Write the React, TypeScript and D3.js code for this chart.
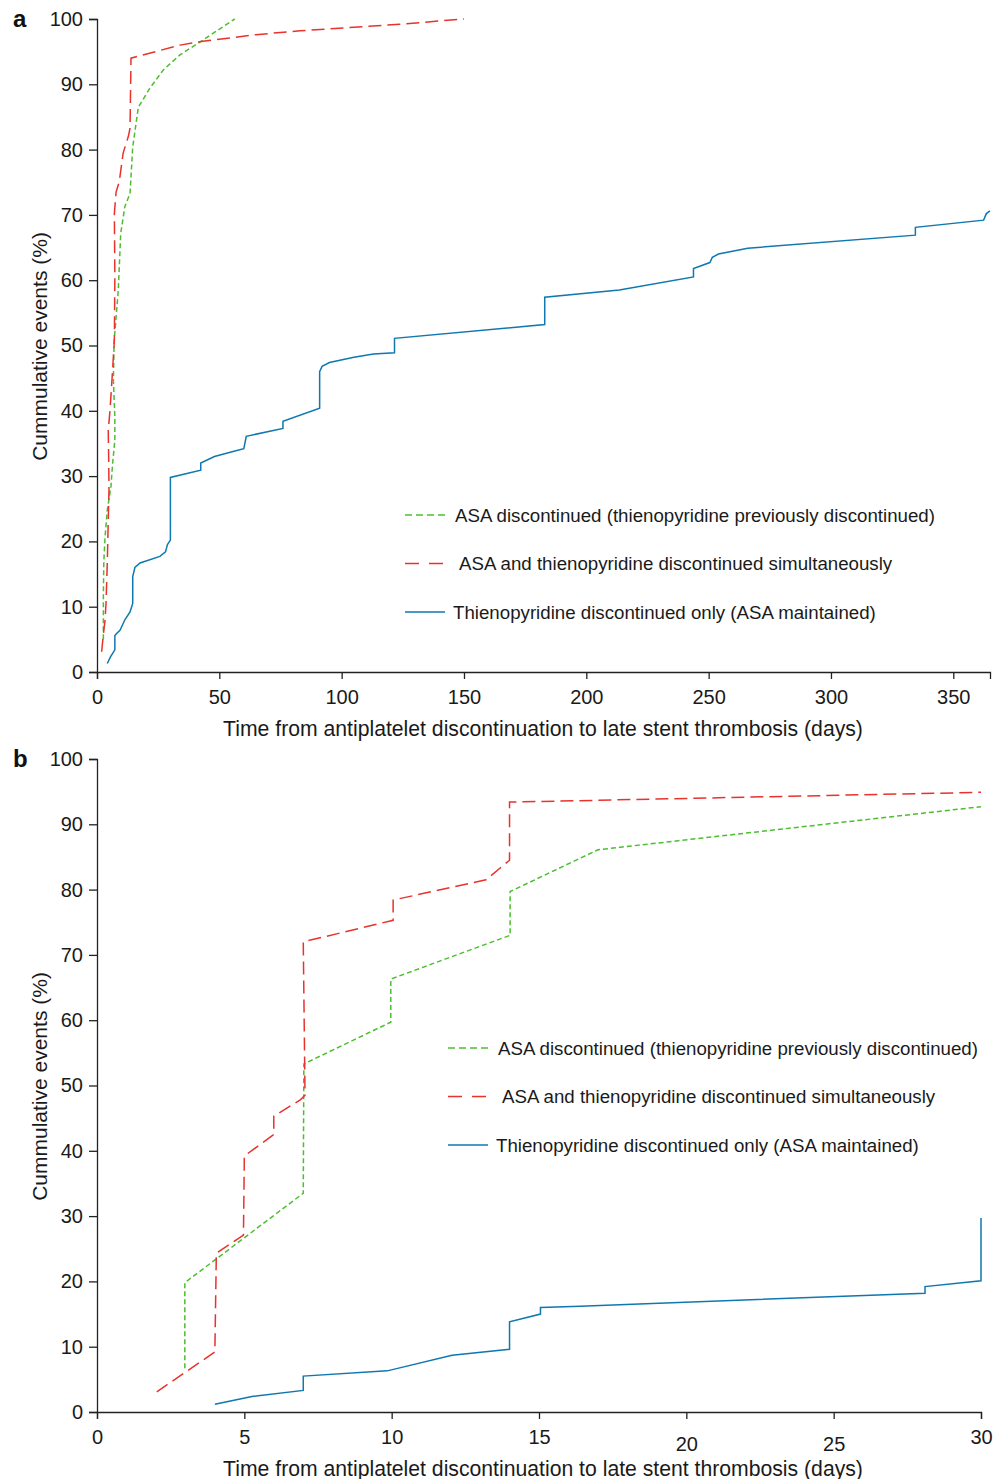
import * as d3 from "d3";
import React, { useRef, useEffect } from "react";

// [day, cumulative %]
const asaOnlyA = [[2.6, 5], [2.6, 12], [2.8, 17], [3.3, 20.7], [4.2, 24.8], [5.7, 28.4], [6.4, 32], [7.3, 35.5], [7.3, 39], [6.7, 44.7], [7.0, 50.8], [7.3, 52], [8.7, 58.5], [9.7, 67.2], [11.4, 71.3], [13.5, 73.3], [14.6, 80.4], [16.9, 86.5], [21.6, 89.4], [27.1, 92.2], [33.9, 94.5], [43.4, 96.8], [56.3, 100]];
const bothA = [[1.9, 3.1], [2.5, 5.4], [3.3, 8], [3.7, 10.6], [4.2, 16.7], [4.9, 27.9], [4.8, 32], [4.6, 37], [5.3, 40], [6.2, 45.2], [7.1, 50.8], [7.3, 60.5], [7.1, 70.2], [7.8, 73.5], [9.1, 75.1], [10.7, 79.5], [12.8, 82], [13.5, 83.3], [13.9, 94], [33.9, 96], [43.3, 96.6], [65, 97.6], [83, 98.2], [123.7, 99.2], [150, 100]];
const thienoA = [[4.2, 1.3], [5.5, 2.3], [7.3, 3.4], [7.3, 5.6], [8, 5.9], [9.4, 6.4], [11.4, 8], [13.5, 9.2], [14.6, 10.5], [14.6, 14.6], [15.5, 16], [17.6, 16.7], [25.7, 17.7], [28, 18.4], [28.8, 19.5], [30, 20.2], [30, 29.8], [42.4, 30.9], [42.4, 32], [48, 33], [56, 33.8], [60, 34.2], [60.6, 35.3], [61, 36.1], [76, 37.3], [76, 38.4], [91, 40.4], [91, 46], [92, 46.8], [95, 47.4], [105, 48.2], [113, 48.7], [121.6, 48.9], [121.6, 51.1], [183, 53.2], [183, 57.4], [213.5, 58.5], [243.8, 60.5], [243.8, 61.8], [250.5, 62.7], [251.5, 63.5], [254, 64], [266, 64.9], [334.5, 66.9], [334.5, 68.1], [362.4, 69.2], [363.5, 70.2], [365, 70.6]];

const asaOnlyB = [[2.98, 6.7], [2.98, 19.8], [7, 33.5], [7.02, 53.3], [9.97, 59.7], [9.97, 66.3], [14.02, 73], [14.02, 79.7], [17, 86.1], [30, 92.7]];
const bothB = [[2.03, 3.1], [4.0, 9.2], [4.05, 24.3], [4.97, 27.1], [5, 39.2], [6, 42.5], [6, 45.3], [6.9, 47.8], [7.06, 48.5], [7, 72.0], [10.05, 75.3], [10.05, 78.4], [13.2, 81.5], [14, 84.5], [14, 93.4], [30, 94.9]];
const thienoB = [[4, 1.2], [5.3, 2.4], [7, 3.3], [7, 5.5], [9.85, 6.3], [12.05, 8.7], [14, 9.6], [14, 13.8], [15.05, 15], [15.05, 16], [16.4, 16.2], [28.1, 18.2], [28.1, 19.2], [30, 20.1], [30, 29.7]];

const yTicks = [0, 10, 20, 30, 40, 50, 60, 70, 80, 90, 100];
const xTicksA = [0, 50, 100, 150, 200, 250, 300, 350];
const xTicksB = [0, 5, 10, 15, 20, 25, 30];

const legendLabels = [
  "ASA discontinued (thienopyridine previously discontinued)",
  "ASA and thienopyridine discontinued simultaneously",
  "Thienopyridine discontinued only (ASA maintained)",
];

const xTitle = "Time from antiplatelet discontinuation to late stent thrombosis (days)";
const yTitle = "Cummulative events (%)";

const FONT = "'Liberation Sans', Arial, Helvetica, sans-serif";
const styles = [
  { color: "#4cbf2e", dash: "5,3", legendDash: "7,4" },
  { color: "#e8322c", dash: "13,6", legendDash: "14,10" },
  { color: "#0f78b0", dash: null, legendDash: null },
];
const legendTextOffset = [50, 54, 48];

function drawPanel(svg, opts) {
  const { left, top, width, height, xMax, xTicks, series, letter, legendX, legendY, lowered } = opts;
  const g = svg.append("g").attr("transform", "translate(" + left + "," + top + ")");
  const x = d3.scaleLinear().domain([0, xMax]).range([0, width]);
  const y = d3.scaleLinear().domain([0, 100]).range([height, 0]);

  const yAxis = g.append("g").call(d3.axisLeft(y).tickValues(yTicks).tickSize(8).tickPadding(6));
  const xAxis = g
    .append("g")
    .attr("transform", "translate(0," + height + ")")
    .call(d3.axisBottom(x).tickValues(xTicks).tickSize(7).tickPadding(11));
  [xAxis, yAxis].forEach((ax) => {
    ax.select(".domain").attr("stroke", "#222").attr("stroke-width", 1.3);
    ax.selectAll(".tick line").attr("stroke", "#222").attr("stroke-width", 1.3);
    ax.selectAll("text").attr("font-family", FONT).attr("font-size", 20).attr("fill", "#1a1a1a");
  });
  // a few tick labels sit lower in the original
  xAxis.selectAll(".tick text").attr("dy", (d) => (lowered.includes(d) ? "1.05em" : "0.71em"));

  const line = d3
    .line()
    .x((d) => x(d[0]))
    .y((d) => y(d[1]));

  series.forEach((s, i) => {
    g.append("path")
      .datum(s)
      .attr("d", line)
      .attr("fill", "none")
      .attr("stroke", styles[i].color)
      .attr("stroke-width", 1.5)
      .attr("stroke-dasharray", styles[i].dash);
  });

  // legend
  legendLabels.forEach((lab, i) => {
    const ly = legendY + i * 48.5;
    svg
      .append("line")
      .attr("x1", legendX)
      .attr("x2", legendX + 40)
      .attr("y1", ly)
      .attr("y2", ly)
      .attr("stroke", styles[i].color)
      .attr("stroke-width", 1.5)
      .attr("stroke-dasharray", styles[i].legendDash);
    svg
      .append("text")
      .attr("x", legendX + legendTextOffset[i])
      .attr("y", ly)
      .attr("dy", "0.35em")
      .attr("font-family", FONT)
      .attr("font-size", 18.7)
      .attr("fill", "#1a1a1a")
      .text(lab);
  });

  svg
    .append("text")
    .attr("x", left + 446)
    .attr("y", top + height + 64)
    .attr("text-anchor", "middle")
    .attr("font-family", FONT)
    .attr("font-size", 21.2)
    .attr("fill", "#1a1a1a")
    .text(xTitle);

  svg
    .append("text")
    .attr("transform", "translate(47," + (top + height / 2 + 1) + ") rotate(-90)")
    .attr("text-anchor", "middle")
    .attr("font-family", FONT)
    .attr("font-size", 21)
    .attr("fill", "#1a1a1a")
    .text(yTitle);

  svg
    .append("text")
    .attr("x", 13)
    .attr("y", top + 8)
    .attr("font-family", FONT)
    .attr("font-size", 24)
    .attr("font-weight", "bold")
    .attr("fill", "#111")
    .text(letter);
}

function Chart() {
  const ref = useRef(null);

  useEffect(() => {
    document.body.style.margin = "0";
    const svg = d3.select(ref.current);
    svg.selectAll("*").remove();
    svg.append("rect").attr("width", 1008).attr("height", 1479).attr("fill", "#fff");
    drawPanel(svg, {
      left: 97,
      top: 19,
      width: 893,
      height: 653,
      xMax: 365,
      xTicks: xTicksA,
      series: [asaOnlyA, bothA, thienoA],
      letter: "a",
      legendX: 405,
      legendY: 515,
      lowered: [],
    });
    drawPanel(svg, {
      left: 97,
      top: 759,
      width: 884,
      height: 653,
      xMax: 30,
      xTicks: xTicksB,
      series: [asaOnlyB, bothB, thienoB],
      letter: "b",
      legendX: 448,
      legendY: 1048,
      lowered: [20, 25],
    });
  }, []);

  return <svg ref={ref} width={1008} height={1479} style={{ display: "block" }}></svg>;
}

export default function App() {
  return <Chart />;
}
